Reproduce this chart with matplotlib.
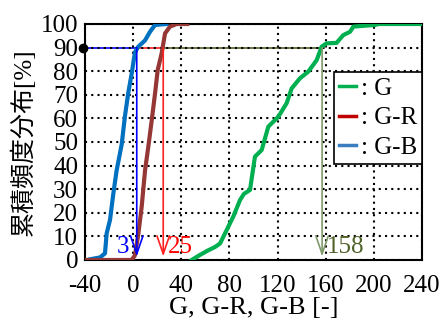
import matplotlib
matplotlib.use("Agg")
import matplotlib.pyplot as plt
from matplotlib.lines import Line2D

plt.rcParams["axes.unicode_minus"] = False

# ---- data ----
g_x = [48.6, 55, 62, 68, 72.2, 77.7, 83.2, 88.8, 92, 97.1, 101.2, 106.8, 112.3, 120.6,
       127.5, 131.7, 138.6, 145.5, 152.5, 156.6, 160.7, 169, 174.6, 180.2, 183, 201, 204, 240]
g_y = [0, 2, 4, 5.5, 7, 12.7, 18.4, 25.4, 28, 29.7, 43.8, 46.6, 56.5, 60.7,
       66.4, 72.7, 77, 79.8, 84.7, 90.4, 91.8, 92, 95.3, 96.7, 98.9, 99.6, 100, 100]

gr_x = [-40, -1.2, 1.5, 4.3, 7.1, 9.9, 12.6, 15.4, 18.2, 20.4, 23.7, 26.5, 30.6, 36.2, 45]
gr_y = [0, 0, 2, 11, 22.6, 38, 48, 59, 70.6, 80.5, 87.6, 96, 98.9, 100, 100]

gb_x = [-35.8, -27.5, -23.4, -22, -19.2, -16.5, -13.7, -9.5, -6.8, -4, -1.2, 1.5,
        4.3, 9.8, 14, 18.2, 27.8]
gb_y = [0.3, 1.1, 2.8, 11.3, 17, 28, 38, 49, 61, 71, 79, 88,
        90.4, 93, 96.7, 99.6, 100]

series_labels = [": G", ": G-R", ": G-B"]
line_colors = ["#00b050", "#953735", "#0070c0"]
legend_colors = ["#00b050", "#c00000", "#3c7dc0"]

level90 = 90
thresholds = [3, 25, 157]
threshold_labels = ["3", "25", "158"]
thr_line_colors = ["#0000ff", "#ff2020", "#7f9a6a"]
thr_hline_colors = ["#0000ff", "#ff2020", "#4f6228"]
thr_text_colors = ["#0000ff", "#ff0000", "#4f6228"]

x_ticks = [-40, 0, 40, 80, 120, 160, 200, 240]
y_ticks = list(range(0, 101, 10))

# ---- figure ----
serif = ["Liberation Serif", "Noto Sans CJK JP"]
fig = plt.figure(figsize=(4.44, 3.20), dpi=100)
ax = fig.add_axes([85 / 444, 1 - 260 / 320, (422 - 85) / 444, (260 - 24) / 320])

ax.set_xlim(x_ticks[0], x_ticks[-1])
ax.set_ylim(0, 100)
ax.set_xticks(x_ticks)
ax.set_yticks(y_ticks)
ax.tick_params(length=0, labelsize=18)
ax.tick_params(axis="y", pad=5)
ax.tick_params(axis="x", pad=11)
for lab in ax.get_xticklabels() + ax.get_yticklabels():
    lab.set_family(serif)

ax.set_axisbelow(False)
ax.grid(True, color="black", linestyle=(0, (1, 2)), linewidth=1.5)
for sp in ax.spines.values():
    sp.set_linewidth(1.5)
    sp.set_color("black")

# threshold horizontal lines at 90%
starts = [x_ticks[0]] + thresholds[:-1]
for s, t, c in zip(starts, thresholds, thr_hline_colors):
    ax.plot([s, t], [level90, level90], color=c, linewidth=1.2, zorder=2)

# curves
ax.plot(gb_x, gb_y, color=line_colors[2], linewidth=3, zorder=3, solid_joinstyle="round")
ax.plot(gr_x, gr_y, color=line_colors[1], linewidth=3, zorder=3, solid_joinstyle="round")
ax.plot(g_x, g_y, color=line_colors[0], linewidth=3, zorder=3, solid_joinstyle="round")

# black dot at 90%
ax.plot([x_ticks[0] - 2], [level90], "o", color="black", markersize=6, clip_on=False, zorder=5)

# arrows
for t, lab, lc, tc, side in zip(thresholds, threshold_labels, thr_line_colors, thr_text_colors,
                                ["left", "right", "right"]):
    ax.annotate("", xy=(t, 1.5), xytext=(t, level90),
                arrowprops=dict(arrowstyle="->,head_length=1.3,head_width=0.45",
                                color=lc, linewidth=1.2, mutation_scale=10,
                                shrinkA=0, shrinkB=0), zorder=4)
    if side == "left":
        ax.annotate(lab, xy=(t, 1.5), xytext=(-8, -2), textcoords="offset pixels",
                    ha="right", va="bottom", color=tc, fontsize=18, family=serif, zorder=4)
    else:
        ax.annotate(lab, xy=(t, 1.5), xytext=(5, -2), textcoords="offset pixels",
                    ha="left", va="bottom", color=tc, fontsize=18, family=serif, zorder=4)

# legend
handles = [Line2D([], [], color=c, linewidth=2.5) for c in legend_colors]
leg = ax.legend(handles, series_labels, loc="upper right", bbox_to_anchor=(1.0, 0.795),
                prop={"family": serif, "size": 18}, frameon=True, fancybox=False,
                edgecolor="black", framealpha=1, handlelength=0.68, handletextpad=0.2,
                labelspacing=0.28, borderpad=0.2, borderaxespad=0)
leg.get_frame().set_linewidth(1.2)
leg.set_zorder(6)

ax.set_xlabel("G, G-R, G-B [-]", fontsize=19, family=serif, labelpad=0)
ax.set_ylabel("累積頻度分布[%]", fontsize=18, family=serif)
ax.yaxis.set_label_coords(-0.145, 0.5)

fig.savefig("out.png", dpi=100)
